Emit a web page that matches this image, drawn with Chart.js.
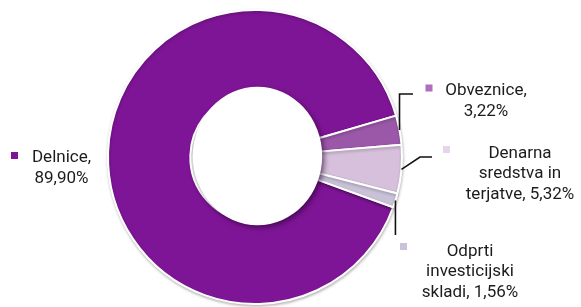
<!DOCTYPE html>
<html><head><meta charset="utf-8">
<script src="https://cdn.jsdelivr.net/npm/chart.js@4/dist/chart.umd.min.js"></script>
<style>html,body{margin:0;padding:0;background:#fff;overflow:hidden}#wrap{width:581px;height:307px;position:relative}</style>
</head><body><div id="wrap"><canvas id="c" width="581" height="307"></canvas></div>
<script>
const categories = ['Delnice', 'Obveznice', 'Denarna sredstva in terjatve', 'Odprti investicijski skladi'];
const shares = [89.90, 3.22, 5.32, 1.56];
const sliceColors = ['#7e1596', '#9b58a9', '#d6c0dc', '#c8c1d8'];
const markerColors = ['#7e1596', '#b06cbf', '#e6d4ea', '#c9c2da'];

function fmtPct(v) { return v.toFixed(2).replace('.', ',') + '%'; }

function wrapText(ctx, text, maxWidth) {
  const words = text.split(' ');
  const lines = [];
  let cur = '';
  words.forEach(w => {
    const test = cur ? cur + ' ' + w : w;
    if (cur && ctx.measureText(test).width > maxWidth) { lines.push(cur); cur = w; }
    else cur = test;
  });
  if (cur) lines.push(cur);
  return lines;
}

// soft outer shadow on the ring, plus a raised white centre casting a shadow onto the ring
const shadowPlugin = {
  id: 'ringShadow',
  beforeDatasetsDraw(chart) {
    const ctx = chart.ctx;
    ctx.save();
    ctx.shadowColor = 'rgba(0,0,0,0.25)';
    ctx.shadowBlur = 3;
    ctx.shadowOffsetX = 0.5;
    ctx.shadowOffsetY = 1.5;
  },
  afterDatasetsDraw(chart, args, opts) {
    const ctx = chart.ctx;
    ctx.restore();
    const arc = chart.getDatasetMeta(0).data[0];
    if (!arc) return;
    const p = arc.getProps(['x', 'y', 'innerRadius'], true);
    ctx.save();
    ctx.shadowColor = 'rgba(40,0,50,0.55)';
    ctx.shadowBlur = 5;
    ctx.shadowOffsetX = 2.5;
    ctx.shadowOffsetY = 2.5;
    ctx.fillStyle = '#ffffff';
    ctx.beginPath();
    ctx.ellipse(p.x + opts.dx, p.y + opts.dy, p.innerRadius * opts.sx, p.innerRadius * opts.sy, 0, 0, Math.PI * 2);
    ctx.fill();
    ctx.restore();
  }
};

const calloutPlugin = {
  id: 'callouts',
  afterDraw(chart, args, opts) {
    const ctx = chart.ctx;
    const meta = chart.getDatasetMeta(0);
    ctx.save();
    ctx.font = opts.font;
    meta.data.forEach((arc, i) => {
      const spec = opts.items[i];
      const p = arc.getProps(['x', 'y', 'startAngle', 'endAngle', 'outerRadius'], true);
      const mid = (p.startAngle + p.endAngle) / 2;
      if (spec.leader) {
        let px = p.x + Math.cos(mid) * p.outerRadius;
        let py = p.y + Math.sin(mid) * p.outerRadius;
        ctx.beginPath();
        ctx.moveTo(px, py);
        spec.leader.forEach(pt => {
          px = pt[0] === null ? px : pt[0];
          py = pt[1] === null ? py : pt[1];
          ctx.lineTo(px, py);
        });
        ctx.strokeStyle = '#111';
        ctx.lineWidth = 1.6;
        ctx.lineJoin = 'miter';
        ctx.stroke();
      }
      ctx.fillStyle = markerColors[i];
      ctx.fillRect(spec.marker[0], spec.marker[1], 7, 7);
      const lines = wrapText(ctx, categories[i] + ', ' + fmtPct(shares[i]), spec.maxWidth);
      ctx.fillStyle = '#1c1c1c';
      ctx.textAlign = 'center';
      ctx.textBaseline = 'alphabetic';
      lines.forEach((ln, k) => ctx.fillText(ln, spec.cx, spec.cy + 6 + k * opts.lineHeight));
    });
    ctx.restore();
  }
};

new Chart(document.getElementById('c'), {
  type: 'doughnut',
  data: {
    labels: categories,
    datasets: [{
      data: shares,
      backgroundColor: sliceColors,
      borderColor: '#ffffff',
      borderWidth: 2
    }]
  },
  options: {
    responsive: false,
    animation: false,
    rotation: 110,
    cutout: '44%',
    layout: { padding: { top: 9, bottom: 2, left: 107, right: 178 } },
    plugins: {
      legend: { display: false },
      tooltip: { enabled: false },
      ringShadow: { dx: 2.5, dy: -1, sx: 1.0, sy: 1.07 },
      callouts: {
        font: '17px Roboto',
        lineHeight: 20.5,
        items: [
          { cx: 61.5, cy: 156, marker: [11, 152], maxWidth: 70 },
          { cx: 486, cy: 89, marker: [425.5, 84.5], maxWidth: 95, leader: [[null, 94], [413, 94]] },
          { cx: 520, cy: 151.5, marker: [443, 146], maxWidth: 120, leader: [[420, 157], [432, 157]] },
          { cx: 470, cy: 249.5, marker: [400, 243], maxWidth: 108, leader: [[null, 235]] }
        ]
      }
    }
  },
  plugins: [shadowPlugin, calloutPlugin]
});
</script>
</body></html>
